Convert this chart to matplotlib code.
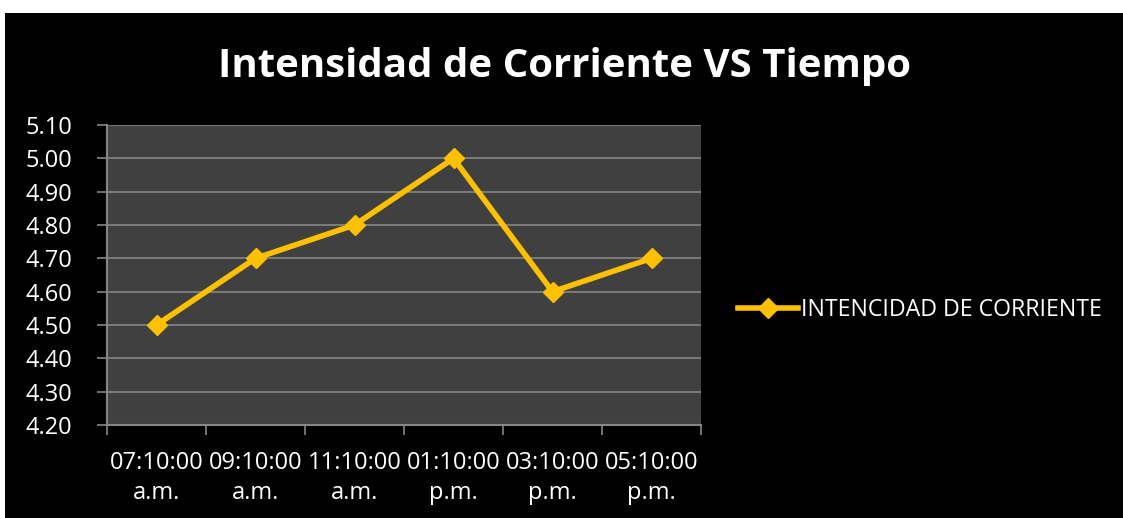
import matplotlib.pyplot as plt
from matplotlib.patches import Rectangle

horas = ["07:10:00\na.m.", "09:10:00\na.m.", "11:10:00\na.m.",
         "01:10:00\np.m.", "03:10:00\np.m.", "05:10:00\np.m."]
corriente = [4.50, 4.70, 4.80, 5.00, 4.60, 4.70]
y_ticks = [4.20, 4.30, 4.40, 4.50, 4.60, 4.70, 4.80, 4.90, 5.00, 5.10]

plt.rcParams['font.family'] = ['Open Sans', 'DejaVu Sans']

fig = plt.figure(figsize=(11.23, 5.18), dpi=100, facecolor="white")
# black chart area, white strip at top and left
fig.patches.append(Rectangle((5 / 1123, 0), 1, 505 / 518, transform=fig.transFigure,
                             facecolor="black", edgecolor="none", zorder=-10))

ax = fig.add_axes([107 / 1123, 93 / 518, 594 / 1123, 300 / 518])
ax.set_facecolor("#404040")

x = list(range(len(horas)))
ax.plot(x, corriente, color="#FFC000", lw=4, marker="D", ms=10,
        mec="#FFC000", mfc="#FFC000", label="INTENCIDAD DE CORRIENTE",
        solid_joinstyle="round", zorder=3)

ax.set_xlim(-0.5, len(horas) - 0.5)
ax.set_ylim(4.20, 5.10)
ax.set_yticks(y_ticks)
ax.set_yticklabels([f"{v:.2f}" for v in y_ticks])
ax.set_xticks([i - 0.5 for i in range(len(horas) + 1)])
ax.set_xticklabels([])
ax.set_xticks(x, minor=True)
ax.set_xticklabels(horas, minor=True)
ax.tick_params(axis="x", which="minor", length=0, pad=19)
ax.tick_params(axis="both", which="major", length=7, color="#868686", width=1.2)
ax.tick_params(axis="both", which="both", labelcolor="white", labelsize=17)
ax.tick_params(axis="y", pad=18)
for lbl in ax.get_xticklabels(minor=True):
    lbl.set_linespacing(1.3)

ax.grid(axis="y", color="#868686", lw=1.2)
ax.set_axisbelow(True)
for side in ["top", "right"]:
    ax.spines[side].set_visible(False)
for side in ["left", "bottom"]:
    ax.spines[side].set_color("#868686")
    ax.spines[side].set_linewidth(1.5)

fig.text(0.503, 0.872, "Intensidad de Corriente VS Tiempo", color="white",
         fontsize=29, fontweight="bold", ha="center", va="center")

leg = ax.legend(loc="center left", bbox_to_anchor=(1.0, 0.383), frameon=False,
                fontsize=16.7, labelcolor="white", handlelength=2.6,
                handletextpad=0.1, borderaxespad=1.2)

fig.savefig("out.png", dpi=100, facecolor="white")
